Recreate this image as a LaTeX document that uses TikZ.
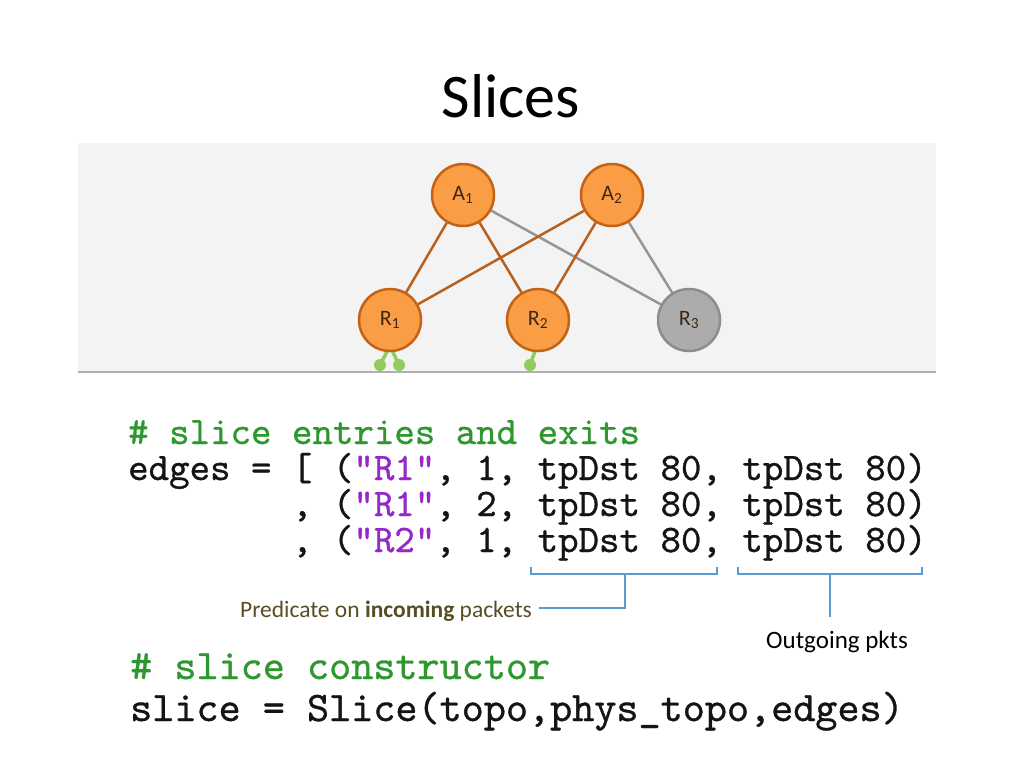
\documentclass[tikz,border=0pt]{standalone}
\usepackage{fontspec}
\setmainfont{Carlito}
\newfontfamily\codefont{lmmono10-regular}[Extension=.otf, FakeBold=0.8]
\definecolor{orfill}{RGB}{250,157,68}
\definecolor{ordraw}{RGB}{196,98,22}
\definecolor{oredge}{RGB}{184,96,28}
\definecolor{gyedge}{RGB}{150,150,150}
\definecolor{gyfill}{RGB}{172,172,172}
\definecolor{gydraw}{RGB}{140,140,140}
\definecolor{panel}{RGB}{243,243,243}
\definecolor{panelline}{RGB}{176,176,176}
\definecolor{lolly}{RGB}{146,204,92}
\definecolor{brblue}{RGB}{91,155,213}
\definecolor{olive}{RGB}{88,78,36}
\definecolor{cmtgreen}{RGB}{46,152,46}
\definecolor{strpurple}{RGB}{150,40,200}
\definecolor{codeblack}{RGB}{20,20,20}
\definecolor{nodetext}{RGB}{60,40,20}
\pgfdeclarelayer{panellayer}
\pgfdeclarelayer{edgelayer}
\pgfsetlayers{panellayer,edgelayer,main}
\tikzset{
  vnode/.style={circle, minimum size=62pt, inner sep=0pt, fill=orfill, draw=ordraw, line width=2.5pt, font=\fontsize{22}{24}\selectfont, text=nodetext},
  gnode/.style={vnode, fill=gyfill, draw=gydraw},
  oline/.style={draw=oredge, line width=2.5pt},
  gline/.style={draw=gyedge, line width=2.5pt},
  lstem/.style={draw=lolly, line width=3.5pt},
  ldot/.style={circle, fill=lolly, minimum size=12pt, inner sep=0pt},
  brk/.style={draw=brblue, line width=2pt},
  codeA/.style={anchor=base west, inner sep=0pt, font=\fontsize{39}{40}\selectfont\codefont, text=codeblack},
  codeB/.style={anchor=base west, inner sep=0pt, font=\fontsize{42.1}{44}\selectfont\codefont, text=codeblack},
  note/.style={font=\fontsize{23.5}{26}\selectfont, inner sep=2pt}
}
\begin{document}
\begin{tikzpicture}[x=1pt,y=-1pt]
\useasboundingbox (0,0) rectangle (1024,768);
% title
\node[font=\fontsize{62}{70}\selectfont, anchor=base] (title) at (511,117) {Slices};
% panel
\begin{pgfonlayer}{panellayer}
\fill[panel] (78,143) rectangle (936,371);
\draw[panelline, line width=2pt] (78,372) -- (936,372);
\end{pgfonlayer}
% nodes
\node[vnode] (A1) at (463,195) {A\textsubscript{1}};
\node[vnode] (A2) at (612,195) {A\textsubscript{2}};
\node[vnode] (R1) at (390,320) {R\textsubscript{1}};
\node[vnode] (R2) at (538,320) {R\textsubscript{2}};
\node[gnode] (R3) at (689,320) {R\textsubscript{3}};
\node[ldot] (d1) at (380,365) {};
\node[ldot] (d2) at (399,365) {};
\node[ldot] (d3) at (530,365) {};
\begin{pgfonlayer}{edgelayer}
\path[gline] (A1) -- (R3);
\path[gline] (A2) -- (R3);
\path[oline] (A1) -- (R1);
\path[oline] (A1) -- (R2);
\path[oline] (A2) -- (R1);
\path[oline] (A2) -- (R2);
\coordinate (r1b) at (390,346);
\coordinate (r2b) at (539,340);
\path[lstem] (r1b) -- (d1.center);
\path[lstem] (r1b) -- (d2.center);
\path[lstem] (r2b) -- (d3.center);
\end{pgfonlayer}
% code block 1
\node[codeA, text=cmtgreen] (c1) at (128,444) {\# slice entries and exits};
\node[codeA] (c2) at (128,480) {edges = [ (\textcolor{strpurple}{"R1"}, 1, tpDst 80, tpDst 80)};
\node[codeA] (c3) at (128,516) {~~~~~~~~, (\textcolor{strpurple}{"R1"}, 2, tpDst 80, tpDst 80)};
\node[codeA] (c4) at (128,552) {~~~~~~~~, (\textcolor{strpurple}{"R2"}, 1, tpDst 80, tpDst 80)};
% brackets
\coordinate (b1a) at (531,567);
\coordinate (b1b) at (717,567);
\coordinate (b1m) at (625,574);
\coordinate (b1k) at (625,608);
\path[brk] (b1a) -- (531,574) -- (717,574) -- (b1b);
\node[note, anchor=east, text=olive] (pred) at (534,611) {Predicate on \textbf{incoming} packets};
\path[brk] (b1m) -- (b1k) -- ([xshift=5pt]pred.east |- b1k);
\coordinate (b2a) at (738,567);
\coordinate (b2b) at (922,567);
\coordinate (b2m) at (830,574);
\coordinate (b2k) at (830,617);
\path[brk] (b2a) -- (738,574) -- (922,574) -- (b2b);
\node[note, anchor=base, font=\fontsize{25}{28}\selectfont] (out) at (837,648) {Outgoing pkts};
\path[brk] (b2m) -- (b2k);
% code block 2
\node[codeB, text=cmtgreen] (c5) at (130,679) {\# slice constructor};
\node[codeB] (c6) at (130,721) {slice = Slice(topo,phys\_topo,edges)};
\end{tikzpicture}
\end{document}
